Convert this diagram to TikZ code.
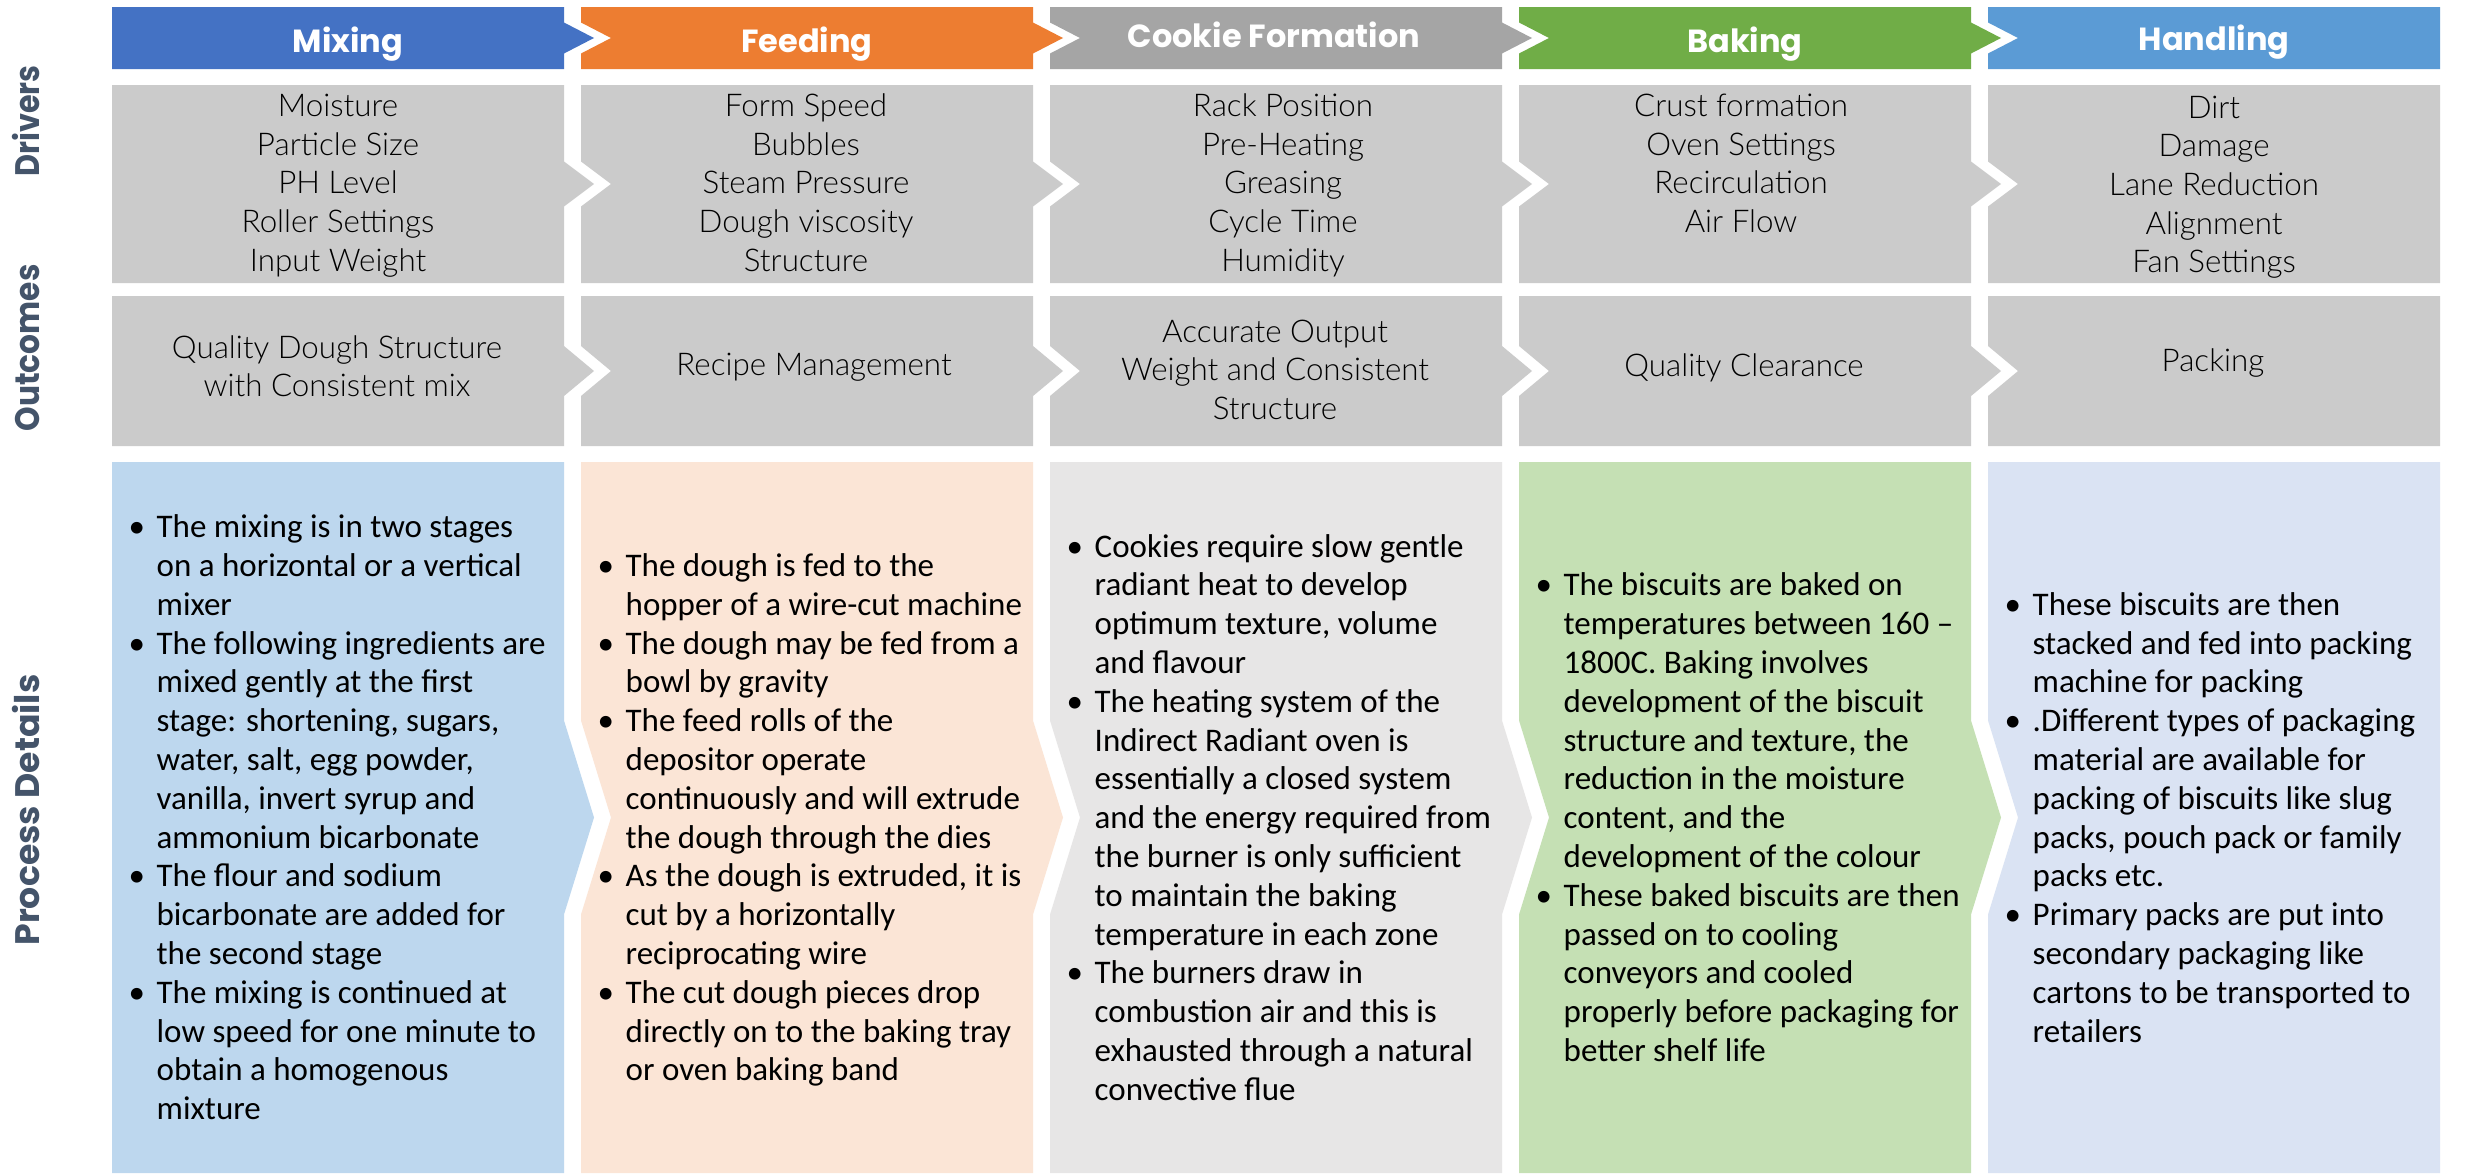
\documentclass[tikz,border=0pt]{standalone}
\usepackage{fontspec}
\setmainfont{Carlito}
\newfontfamily\hfont{Poppins}
\IfFontExistsTF{Lato Light}{\newfontfamily\dfont{Lato Light}}{\newfontfamily\dfont{Lato}}

\definecolor{mixH}{HTML}{4472C4}
\definecolor{feedH}{HTML}{ED7D31}
\definecolor{cookH}{HTML}{A5A5A5}
\definecolor{bakeH}{HTML}{70AD47}
\definecolor{handH}{HTML}{5B9BD5}
\definecolor{mixP}{HTML}{BDD7EE}
\definecolor{feedP}{HTML}{FBE5D6}
\definecolor{cookP}{HTML}{E7E6E6}
\definecolor{bakeP}{HTML}{C5E0B4}
\definecolor{handP}{HTML}{DAE3F3}
\definecolor{cellgray}{HTML}{CBCBCB}
\definecolor{labc}{HTML}{44546A}

% chevron cell: fill, left x, top y, bottom y, half height of tip, notch depth, tip depth
\newcommand\procell[7]{%
  \pgfmathsetmacro\cR{#2+452}%
  \pgfmathsetmacro\cC{(#3+#4)/2}%
  \fill[fill=#1] (#2,#3) -- (\cR,#3) -- (\cR,\cC-#5) -- (\cR+#7,\cC) -- (\cR,\cC+#5)
    -- (\cR,#4) -- (#2,#4) -- (#2,\cC+#5) -- (#2+#6,\cC) -- (#2,\cC-#5) -- cycle;}
\newcommand\bu{\makebox[6pt][l]{\kern-2.4pt\textbullet}}

\tikzset{
  hdr/.style={font=\hfont\bfseries\fontsize{9.6}{11}\selectfont, text=white, anchor=base, inner sep=0pt},
  drv/.style={font=\dfont\fontsize{9.4}{11.6}\selectfont, text=black, anchor=base, inner sep=0pt},
  outc/.style={font=\dfont\fontsize{9.4}{11.5}\selectfont, text=black, anchor=center, inner sep=0pt},
  proc/.style={font=\fontsize{9.9}{11.64}\selectfont, text=black, anchor=west, inner sep=0pt},
  rowlab/.style={font=\hfont\bfseries\fontsize{10.2}{12}\selectfont, text=labc, rotate=90, anchor=base, inner sep=0pt}
}

\begin{document}
\begin{tikzpicture}[x=0.3pt,y=-0.3pt]
\useasboundingbox (0,0) rectangle (2465,1173);
\fill[white] (0,0) rectangle (2465,1173);

% columns of chevron cells
\foreach \i/\L/\hc/\pc in {0/112/mixH/mixP, 1/581/feedH/feedP, 2/1050/cookH/cookP, 3/1519/bakeH/bakeP, 4/1988/handH/handP}{
  \pgfmathsetmacro\dl{\i>0 ? 30 : 0}
  \pgfmathsetmacro\dr{\i<4 ? 30 : 0}
  \procell{\hc}{\L}{7}{69}{15.5}{\dl}{\dr}
  \procell{cellgray}{\L}{85}{283}{22.5}{\dl}{\dr}
  \procell{cellgray}{\L}{296}{446}{25}{\dl}{\dr}
  \procell{\pc}{\L}{462}{1173}{97}{\dl}{\dr}
}

% row labels
\node[rowlab] (labDrv) at (39,121) {\scalebox{0.89}[1]{Drivers}};
\node[rowlab] (labOut) at (39,348) {\scalebox{0.92}[1]{Outcomes}};
\node[rowlab] (labProc) at (39,810) {\scalebox{1.02}[1]{Process Details}};

% stage headers
\node[hdr] (hMix) at (348,52) {Mixing};
\node[hdr] (hFeed) at (807,52) {Feeding};
\node[hdr] (hCook) at (1274,47) {Cookie Formation};
\node[hdr] (hBake) at (1745,52) {Baking};
\node[hdr] (hHand) at (2214,50) {Handling};

% drivers
\node[drv] (dMix) at (338,116.5) {\begin{tabular}[t]{@{}c@{}}Moisture\\Particle Size\\PH Level\\Roller Settings\\Input Weight\end{tabular}};
\node[drv] (dFeed) at (806,116.5) {\begin{tabular}[t]{@{}c@{}}Form Speed\\Bubbles\\Steam Pressure\\Dough viscosity\\Structure\end{tabular}};
\node[drv] (dCook) at (1283,116.5) {\begin{tabular}[t]{@{}c@{}}Rack Position\\Pre-Heating\\Greasing\\Cycle Time\\Humidity\end{tabular}};
\node[drv] (dBake) at (1741,116.5) {\begin{tabular}[t]{@{}c@{}}Crust formation\\Oven Settings\\Recirculation\\Air Flow\end{tabular}};
\node[drv] (dHand) at (2214,118) {\begin{tabular}[t]{@{}c@{}}Dirt\\Damage\\Lane Reduction\\Alignment\\Fan Settings\end{tabular}};

% outcomes
\node[outc] (oMix) at (337,370) {\begin{tabular}{@{}c@{}}Quality Dough Structure\\with Consistent mix\end{tabular}};
\node[outc] (oFeed) at (814,368) {\begin{tabular}{@{}c@{}}Recipe Management\end{tabular}};
\node[outc] (oCook) at (1275,373) {\begin{tabular}{@{}c@{}}Accurate Output\\Weight and Consistent\\Structure\end{tabular}};
\node[outc] (oBake) at (1744,369) {\begin{tabular}{@{}c@{}}Quality Clearance\end{tabular}};
\node[outc] (oHand) at (2213,364) {\begin{tabular}{@{}c@{}}Packing\end{tabular}};

% process details
\node[proc] (pMix) at (136,821) {\begin{tabular}{@{}l@{}l@{}}
\bu & The mixing is in two stages\\
 & on a horizontal or a vertical\\
 & mixer\\
\bu & The following ingredients are\\
 & mixed gently at the first\\
 & stage: shortening, sugars,\\
 & water, salt, egg powder,\\
 & vanilla, invert syrup and\\
 & ammonium bicarbonate\\
\bu & The flour and sodium\\
 & bicarbonate are added for\\
 & the second stage\\
\bu & The mixing is continued at\\
 & low speed for one minute to\\
 & obtain a homogenous\\
 & mixture
\end{tabular}};

\node[proc] (pFeed) at (605,821) {\begin{tabular}{@{}l@{}l@{}}
\bu & The dough is fed to the\\
 & hopper of a wire-cut machine\\
\bu & The dough may be fed from a\\
 & bowl by gravity\\
\bu & The feed rolls of the\\
 & depositor operate\\
 & continuously and will extrude\\
 & the dough through the dies\\
\bu & As the dough is extruded, it is\\
 & cut by a horizontally\\
 & reciprocating wire\\
\bu & The cut dough pieces drop\\
 & directly on to the baking tray\\
 & or oven baking band
\end{tabular}};

\node[proc] (pCook) at (1074,821) {\begin{tabular}{@{}l@{}l@{}}
\bu & Cookies require slow gentle\\
 & radiant heat to develop\\
 & optimum texture, volume\\
 & and flavour\\
\bu & The heating system of the\\
 & Indirect Radiant oven is\\
 & essentially a closed system\\
 & and the energy required from\\
 & the burner is only sufficient\\
 & to maintain the baking\\
 & temperature in each zone\\
\bu & The burners draw in\\
 & combustion air and this is\\
 & exhausted through a natural\\
 & convective flue
\end{tabular}};

\node[proc] (pBake) at (1543,821) {\begin{tabular}{@{}l@{}l@{}}
\bu & The biscuits are baked on\\
 & temperatures between 160 –\\
 & 1800C. Baking involves\\
 & development of the biscuit\\
 & structure and texture, the\\
 & reduction in the moisture\\
 & content, and the\\
 & development of the colour\\
\bu & These baked biscuits are then\\
 & passed on to cooling\\
 & conveyors and cooled\\
 & properly before packaging for\\
 & better shelf life
\end{tabular}};

\node[proc] (pHand) at (2012,821) {\begin{tabular}{@{}l@{}l@{}}
\bu & These biscuits are then\\
 & stacked and fed into packing\\
 & machine for packing\\
\bu & .Different types of packaging\\
 & material are available for\\
 & packing of biscuits like slug\\
 & packs, pouch pack or family\\
 & packs etc.\\
\bu & Primary packs are put into\\
 & secondary packaging like\\
 & cartons to be transported to\\
 & retailers
\end{tabular}};
\end{tikzpicture}
\end{document}
